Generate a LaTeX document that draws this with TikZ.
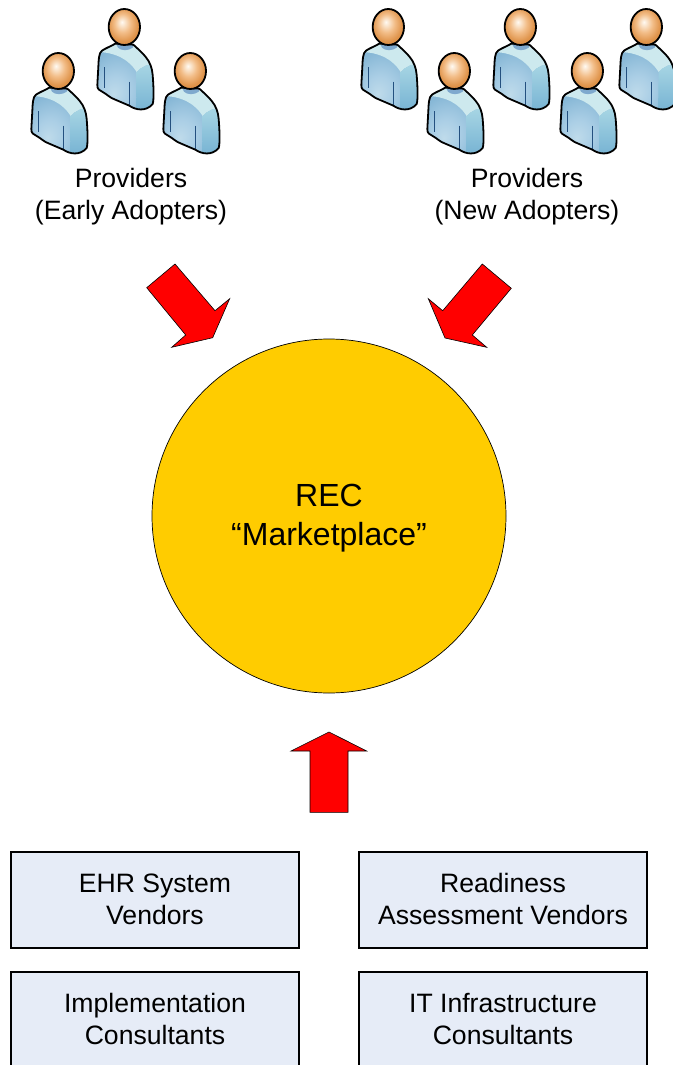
\documentclass[tikz,border=0pt]{standalone}
\usepackage{fontspec}
\setmainfont{Liberation Sans}
\definecolor{armA}{HTML}{A8D6E4}
\definecolor{armB}{HTML}{74B1D2}
\definecolor{collar}{HTML}{CDE9EE}
\definecolor{neckc}{HTML}{7FA9CE}
\definecolor{seam}{HTML}{24507F}
\definecolor{boxfill}{HTML}{E6ECF7}
\definecolor{ballfill}{HTML}{FFCC00}
\pgfdeclareradialshading{headshade}{\pgfpoint{-4bp}{7bp}}{rgb(0bp)=(1,0.98,0.95); rgb(5bp)=(0.98,0.89,0.79); rgb(13bp)=(0.95,0.74,0.53); rgb(23bp)=(0.88,0.59,0.31); rgb(31bp)=(0.84,0.52,0.22); rgb(50bp)=(0.84,0.52,0.22)}
\pgfdeclareradialshading{torsoshade}{\pgfpoint{-9bp}{-12bp}}{rgb(0bp)=(0.75,0.86,0.92); rgb(10bp)=(0.67,0.81,0.90); rgb(24bp)=(0.53,0.72,0.84); rgb(50bp)=(0.50,0.70,0.83)}
\newcommand{\bodypath}{(88,131) .. controls (72,140) and (58,145) .. (48,152) .. controls (38,159) and (38,180) .. (37,200) -- (34,255) .. controls (33,268) and (42,272) .. (50,276) .. controls (62,282) and (72,294) .. (88,299) -- (130,317) .. controls (148,330) and (180,336) .. (200,312) .. controls (204,300) and (203,260) .. (200,225) .. controls (197,180) and (170,160) .. (142,134) -- cycle}
\newcommand{\personicon}[2]{%
  \begin{scope}[shift={(#1-39,#2-27)},scale=0.33333]
    \begin{scope}
      \clip \bodypath;
      \shade[shading=torsoshade] (20,120) rectangle (215,340);
      \fill[collar] (30,156) .. controls (90,156) and (130,180) .. (152,216) .. controls (165,200) and (190,190) .. (210,192) -- (210,110) -- (30,110) -- cycle;
      \shade[top color=armA,bottom color=armB] (152,216) .. controls (165,200) and (190,190) .. (210,192) -- (210,340) -- (150,340) -- cycle;
      \fill[neckc] (85,120) -- (147,120) -- (140,143) .. controls (128,153) and (105,153) .. (96,143) -- cycle;
    \end{scope}
    \draw[seamline] (55,202) -- (55,264);
    \draw[seamline] (130,245) -- (130,318);
    \draw[iconline] \bodypath;
    \shade[shading=headshade,draw=black,line width=1.8pt] (115,81) ellipse [x radius=47,y radius=54];
  \end{scope}}
\tikzset{
  x=1pt,y=-1pt,
  iconline/.style={draw=black,line width=1.8pt,line join=round},
  seamline/.style={draw=seam,line width=1.1pt},
  redarrow/.style={draw=black,fill=red,line width=0.6pt,line join=miter},
  label/.style={align=center,font=\fontsize{26.6}{32}\selectfont,inner sep=0pt},
  vendorbox/.style={draw=black,fill=boxfill,line width=1.3pt,minimum width=288pt,minimum height=96pt,align=center,inner sep=0pt,text depth=2pt,font=\fontsize{26.6}{32}\selectfont},
  ball/.style={circle,draw=black,fill=ballfill,line width=0.7pt,minimum size=354pt,inner sep=0pt},
  balltext/.style={align=center,inner sep=0pt,font=\fontsize{32}{39}\selectfont}
}
\begin{document}
\begin{tikzpicture}
\useasboundingbox (0,0) rectangle (672,1065);
\personicon{125}{27}
\personicon{59}{71}
\personicon{191}{71}
\personicon{389}{27}
\personicon{521}{27}
\personicon{647}{27}
\personicon{455}{71}
\personicon{588}{71}
\node[label] (early) at (131,197) {Providers\\(Early Adopters)};
\node[label] (new) at (527,197) {Providers\\(New Adopters)};
\node[ball] (market) at (329,516) {};
\node[balltext] (markettext) at (329,518) {REC\\“Marketplace”};
\draw[redarrow] (175,264) -- (215,310.7) -- (229.7,298.7) -- (212.7,337.7) -- (171.7,347.3) -- (185.7,335) -- (146.7,287.7) -- cycle;
\draw[redarrow] (482.3,264) -- (511.3,288.3) -- (472.3,335) -- (486.7,347.3) -- (445,338) -- (428.3,298.7) -- (442.7,310.7) -- cycle;
\draw[redarrow] (329,732) -- (366.7,751) -- (348,751) -- (348,812.3) -- (310,812.3) -- (310,751) -- (291,751) -- cycle;
\node[vendorbox] (ehr) at (155,900) {EHR System\\Vendors};
\node[vendorbox] (ready) at (503,900) {Readiness\\Assessment Vendors};
\node[vendorbox] (impl) at (155,1020) {Implementation\\Consultants};
\node[vendorbox] (infra) at (503,1020) {IT Infrastructure\\Consultants};
\end{tikzpicture}
\end{document}
